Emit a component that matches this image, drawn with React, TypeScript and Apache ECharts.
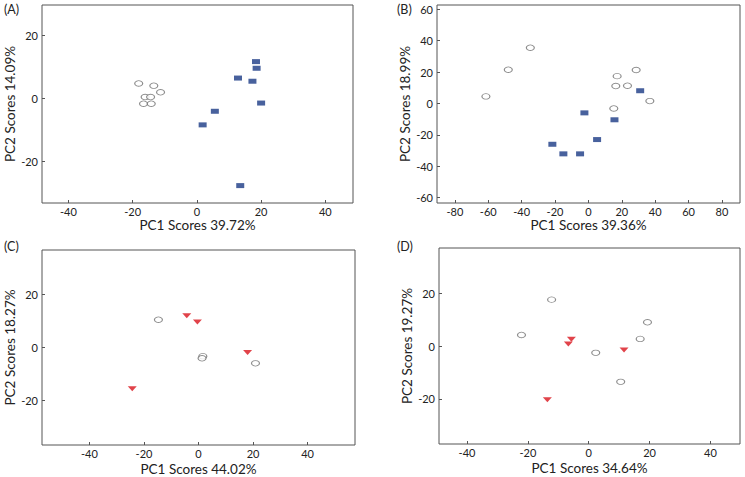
import React, { useEffect, useRef } from "react";
import * as echarts from "echarts";

// Panel A
const aCircles: number[][] = [
  [-18.1, 4.7], [-13.4, 4.0], [-11.3, 1.9], [-16.1, 0.4], [-14.4, 0.4], [-16.6, -1.7], [-14.2, -1.7],
];
const aSquares: number[][] = [
  [18.4, 11.6], [18.6, 9.5], [12.8, 6.4], [17.3, 5.4], [20.0, -1.5], [5.6, -4.1], [1.8, -8.4], [13.5, -27.6],
];
// Panel B
const bCircles: number[][] = [
  [-61.4, 4.5], [-48, 21.5], [-34.8, 35.5], [17.2, 17.4], [16.4, 11.1], [23.4, 11.3], [28.6, 21.3], [36.8, 1.5], [15.2, -3.2],
];
const bSquares: number[][] = [
  [31, 8.1], [-2.4, -6.0], [15.6, -10.4], [5.2, -23], [-21.6, -26], [-15, -32.1], [-5, -32.1],
];
// Panel C
const cCircles: number[][] = [
  [-14.7, 10.4], [1.6, -3.3], [1.3, -4.1], [20.9, -6.0],
];
const cTriangles: number[][] = [
  [-4.3, 11.9], [-0.4, 9.5], [18, -1.9], [-24.3, -15.6],
];
// Panel D
const dCircles: number[][] = [
  [-12.2, 17.7], [-22.1, 4.3], [19.3, 9.1], [16.9, 2.8], [2.3, -2.5], [10.5, -13.5],
];
const dTriangles: number[][] = [
  [-5.7, 2.7], [-6.7, 0.9], [11.6, -1.4], [-13.6, -20.3],
];

const panelLabels = ["(A)", "(B)", "(C)", "(D)"];
const xNames = ["PC1 Scores 39.72%", "PC1 Scores 39.36%", "PC1 Scores 44.02%", "PC1 Scores 34.64%"];
const yNames = ["PC2 Scores 14.09%", "PC2 Scores 18.99%", "PC2 Scores 18.27%", "PC2 Scores 19.27%"];
const xTicksA = [-40, -20, 0, 20, 40];
const xTicksB = [-80, -60, -40, -20, 0, 20, 40, 60, 80];
const xTicksC = [-40, -20, 0, 20, 40];
const xTicksD = [-40, -20, 0, 20, 40];
const yTicksA = [-20, 0, 20];
const yTicksB = [-60, -40, -20, 0, 20, 40, 60];
const yTicksC = [-20, 0, 20];
const yTicksD = [-20, 0, 20];
const xRanges = [[-48.2, 48.6], [-90.7, 90.8], [-57.4, 57.4], [-49.2, 49.7]];
const yRanges = [[-33.1, 29.5], [-63.4, 62.7], [-36.7, 36.6], [-37.1, 37.3]];

const FONT = "Lato, 'Open Sans', sans-serif";

export default function App() {
  const ref = useRef<HTMLDivElement>(null);
  useEffect(() => {
    if (!ref.current) return;
    const chart = echarts.init(ref.current, undefined, { renderer: "svg" });
    const grids = [
      { left: 42, top: 5, width: 311, height: 198 },
      { left: 437, top: 5, width: 303, height: 198 },
      { left: 42, top: 250, width: 313, height: 195 },
      { left: 439, top: 248, width: 301, height: 196 },
    ];
    const xTicks = [xTicksA, xTicksB, xTicksC, xTicksD];
    const yTicks = [yTicksA, yTicksB, yTicksC, yTicksD];
    const xGaps = [11, 11, 17, 17];
    const labelPos = [[4, 3], [397, 3], [4, 240], [397, 240]];

    const circleStyle = { color: "#ffffff", borderColor: "#6e6e6e", borderWidth: 1 };
    const mk = (data: number[][], i: number, kind: string) => {
      const base: any = {
        type: "scatter",
        xAxisIndex: i,
        yAxisIndex: i,
        data,
        silent: true,
      };
      if (kind === "circle") {
        return { ...base, symbol: "circle", symbolSize: [8, 5.5], itemStyle: circleStyle, z: 3 };
      }
      if (kind === "square") {
        return { ...base, symbol: "rect", symbolSize: [8, 5], itemStyle: { color: "#1a3985" }, z: 4 };
      }
      return { ...base, symbol: "triangle", symbolRotate: 180, symbolSize: [9, 5], itemStyle: { color: "#da141d" }, z: 4 };
    };

    chart.setOption({
      animation: false,
      backgroundColor: "#ffffff",
      grid: grids.map((g) => ({ ...g, show: true, borderColor: "#555555", borderWidth: 1, backgroundColor: "transparent" })),
      xAxis: grids.map((_, i) => ({
        type: "value",
        gridIndex: i,
        min: xRanges[i][0],
        max: xRanges[i][1],
        splitLine: { show: false },
        axisLine: { show: false, onZero: false },
        axisTick: { show: true, inside: true, length: 3, customValues: xTicks[i], lineStyle: { color: "#555555" } },
        axisLabel: { customValues: xTicks[i], margin: 3, fontSize: 11, color: "#222222", fontFamily: FONT, showMinLabel: true, showMaxLabel: true },
        name: xNames[i],
        nameLocation: "middle",
        nameGap: xGaps[i],
        nameTextStyle: { fontSize: 13.5, color: "#222222", fontFamily: FONT },
      })),
      yAxis: grids.map((_, i) => ({
        type: "value",
        gridIndex: i,
        min: yRanges[i][0],
        max: yRanges[i][1],
        splitLine: { show: false },
        axisLine: { show: false, onZero: false },
        axisTick: { show: true, inside: true, length: 3, customValues: yTicks[i], lineStyle: { color: "#555555" } },
        axisLabel: { customValues: yTicks[i], margin: 4, fontSize: 11, color: "#222222", fontFamily: FONT },
        name: yNames[i],
        nameLocation: "middle",
        nameGap: 25,
        nameTextStyle: { fontSize: 13.5, color: "#222222", fontFamily: FONT },
      })),
      graphic: panelLabels.map((t, i) => ({
        type: "text",
        left: labelPos[i][0],
        top: labelPos[i][1],
        style: { text: t, fontSize: 12.5, fill: "#222222", fontFamily: FONT },
      })),
      series: [
        mk(aCircles, 0, "circle"),
        mk(aSquares, 0, "square"),
        mk(bCircles, 1, "circle"),
        mk(bSquares, 1, "square"),
        mk(cCircles, 2, "circle"),
        mk(cTriangles, 2, "triangle"),
        mk(dCircles, 3, "circle"),
        mk(dTriangles, 3, "triangle"),
      ],
    });
    return () => chart.dispose();
  }, []);
  return <div ref={ref} style={{ position: "absolute", left: 0, top: 0, width: 745, height: 477 }} />;
}
